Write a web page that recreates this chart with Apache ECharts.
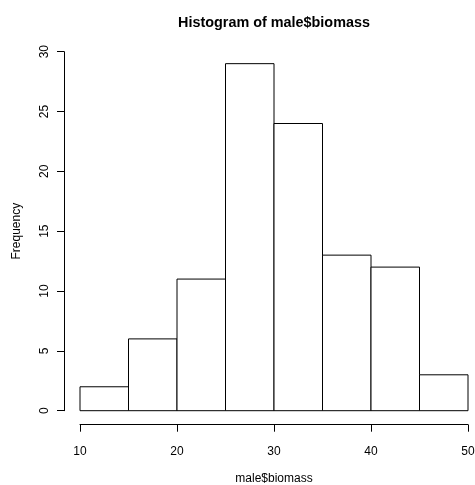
<!DOCTYPE html>
<html>
<head>
<meta charset="utf-8">
<script src="https://cdn.jsdelivr.net/npm/echarts@6/dist/echarts.min.js"></script>
<style>
  html, body { margin: 0; padding: 0; background: #fff; }
  #main { width: 475px; height: 485px; }
</style>
</head>
<body>
<div id="main"></div>
<script>
// histogram bins and counts
const binStart = [10, 15, 20, 25, 30, 35, 40, 45]
const binEnd = [15, 20, 25, 30, 35, 40, 45, 50]
const counts = [2, 6, 11, 29, 24, 13, 12, 3]
const xTicks = [10, 20, 30, 40, 50]
const yTicks = [0, 5, 10, 15, 20, 25, 30]

const font = 'Liberation Sans, Arial, Helvetica, sans-serif'
const myChart = echarts.init(document.getElementById('main'))

const option = {
  animation: false,
  backgroundColor: '#fff',
  textStyle: { fontFamily: font, color: '#000' },
  title: {
    text: 'Histogram of male$biomass',
    left: 269,
    top: 11,
    textAlign: 'center',
    textStyle: { fontFamily: font, fontSize: 14.4, fontWeight: 'bold', color: '#000' }
  },
  grid: {
    left: 80,
    right: 7,
    top: 51.7,
    bottom: 74.3,
    containLabel: false,
    outerBoundsMode: 'none'
  },
  xAxis: {
    type: 'value',
    min: xTicks[0],
    max: xTicks[xTicks.length - 1],
    interval: 10,
    offset: 14,
    name: 'male$biomass',
    nameLocation: 'middle',
    nameGap: 48,
    nameTextStyle: { fontFamily: font, fontSize: 12, color: '#000' },
    axisLine: { show: true, onZero: false, lineStyle: { color: '#000', width: 1 } },
    axisTick: { show: true, length: 7, lineStyle: { color: '#000' } },
    axisLabel: { margin: 21, fontSize: 12, color: '#000', fontFamily: font },
    splitLine: { show: false }
  },
  yAxis: {
    type: 'value',
    min: yTicks[0],
    max: yTicks[yTicks.length - 1],
    interval: 5,
    offset: 16,
    name: 'Frequency',
    nameLocation: 'middle',
    nameGap: 41,
    nameTextStyle: { fontFamily: font, fontSize: 12, color: '#000' },
    axisLine: { show: true, onZero: false, lineStyle: { color: '#000', width: 1 } },
    axisTick: { show: true, length: 7, lineStyle: { color: '#000' } },
    axisLabel: { margin: 13, rotate: 90, fontSize: 12, color: '#000', fontFamily: font },
    splitLine: { show: false }
  },
  series: [
    {
      type: 'custom',
      data: counts.map((c, i) => [binStart[i], binEnd[i], c]),
      encode: { x: [0, 1], y: 2 },
      renderItem: function (params, api) {
        const p0 = api.coord([api.value(0), api.value(2)])
        const p1 = api.coord([api.value(1), 0])
        return {
          type: 'rect',
          shape: { x: p0[0], y: p0[1], width: p1[0] - p0[0], height: p1[1] - p0[1] },
          style: { fill: '#fff', stroke: '#000', lineWidth: 1 }
        }
      }
    }
  ]
}

option && myChart.setOption(option)

window.addEventListener('resize', function () {
  myChart.resize()
})
</script>
</body>
</html>
